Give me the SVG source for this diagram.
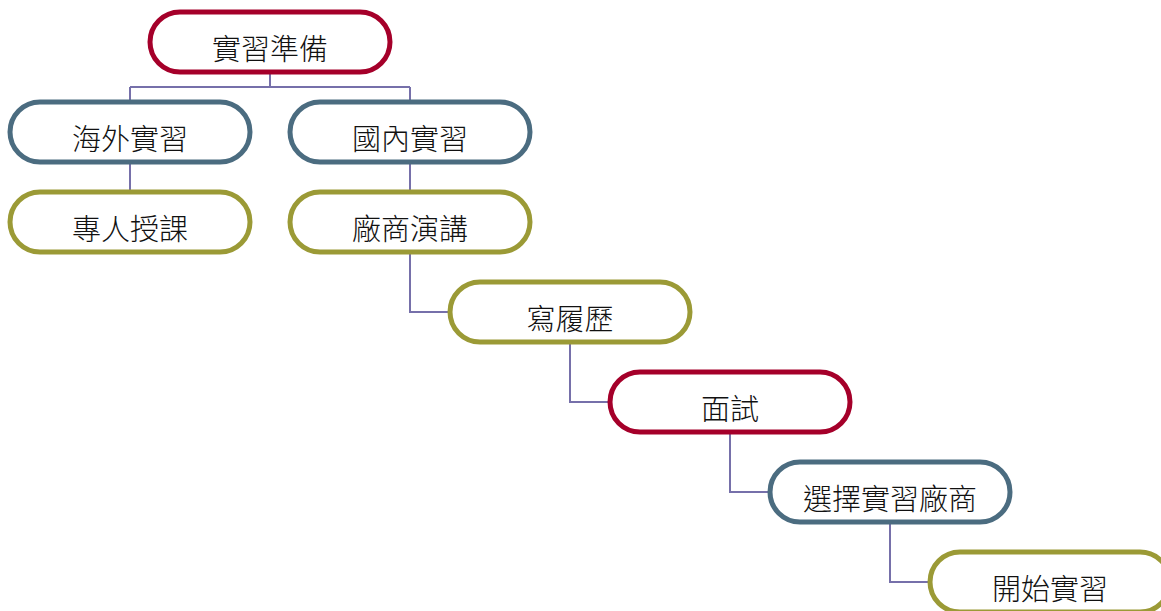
<svg xmlns="http://www.w3.org/2000/svg" width="1161" height="611" viewBox="0 0 1161 611">
<style>
.n rect{fill:#fff;stroke-width:5}
.r rect{stroke:#A5002A}
.b rect{stroke:#4B6C80}
.o rect{stroke:#9B9A36}
.n text{font-family:"Noto Sans CJK TC","Noto Sans CJK SC",sans-serif;font-size:29px;font-weight:300;fill:#111;text-anchor:middle}
.c path{fill:none;stroke:#7670AA;stroke-width:2}
</style>
<rect width="1161" height="611" fill="#fff"/>
<g id="connectors" class="c">
<path d="M270,72V87M130,87H410M130,87V102M410,87V102"/>
<path d="M130,162V192"/>
<path d="M410,162V192"/>
<path d="M410,252V312H450"/>
<path d="M570,342V402H610"/>
<path d="M730,432V492H770"/>
<path d="M890,522V582H930"/>
</g>
<g id="n1" class="n r"><rect x="150" y="12" width="240" height="60" rx="30"/><text x="270" y="60">實習準備</text></g>
<g id="n2" class="n b"><rect x="10" y="102" width="240" height="60" rx="30"/><text x="130" y="150">海外實習</text></g>
<g id="n3" class="n b"><rect x="290" y="102" width="240" height="60" rx="30"/><text x="410" y="150">國內實習</text></g>
<g id="n4" class="n o"><rect x="10" y="192" width="240" height="60" rx="30"/><text x="130" y="240">專人授課</text></g>
<g id="n5" class="n o"><rect x="290" y="192" width="240" height="60" rx="30"/><text x="410" y="240">廠商演講</text></g>
<g id="n6" class="n o"><rect x="450" y="282" width="240" height="60" rx="30"/><text x="570" y="330">寫履歷</text></g>
<g id="n7" class="n r"><rect x="610" y="372" width="240" height="60" rx="30"/><text x="730" y="420">面試</text></g>
<g id="n8" class="n b"><rect x="770" y="462" width="240" height="60" rx="30"/><text x="890" y="510">選擇實習廠商</text></g>
<g id="n9" class="n o"><rect x="930" y="552" width="240" height="60" rx="30"/><text x="1050" y="600">開始實習</text></g>
</svg>
